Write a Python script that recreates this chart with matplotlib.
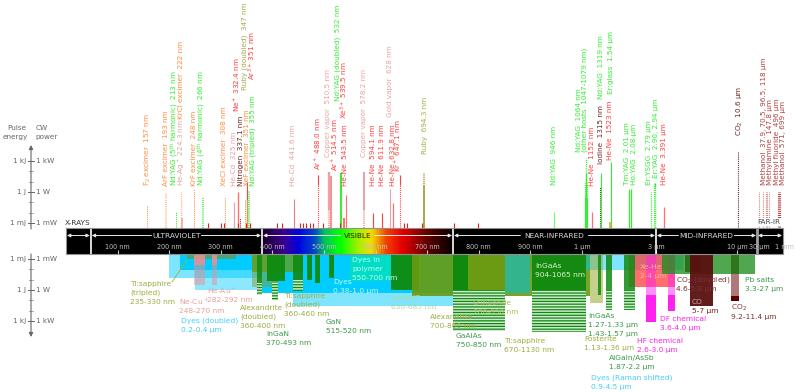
import matplotlib
matplotlib.use('Agg')
import matplotlib.pyplot as plt
from matplotlib.colors import LinearSegmentedColormap
import numpy as np

plt.rcParams['font.family'] = 'DejaVu Sans'
plt.rcParams['mathtext.default'] = 'regular'
plt.rcParams['hatch.linewidth'] = 0.9
plt.rcParams['lines.scale_dashes'] = False

ORANGE = '#ff8c3c'
PALE_ORANGE = '#ffb48c'
GREEN = '#33ee33'
RED = '#ff4040'
SOFT_RED = '#ff7070'
PINK = '#e8a4a4'
OLIVE = '#a8a84c'
DARK = '#6a2424'
MAROON = '#b04040'
DYE = '#00ccff'
BAND_GREEN = '#0f8a0f'
BAND_OLIVE = '#6a9a10'
MAGENTA = '#ff22ee'
BAR_EDGE = 3.3e-4

# upper half: discrete lines, wavelength in nm and top of the line in W (or J)
line_waves = [157, 193, 213, 222, 224.3, 248, 266, 308, 325, 332.4, 337.1, 347,
              351, 351, 355, 441.6, 488, 510.5, 514.5, 532, 539.5, 543.5, 578.2,
              594.1, 611.9, 628, 632.8, 647.1, 694.3, 946, 1047, 1053, 1064, 1079,
              1152, 1315, 1319, 1523, 1540, 2010, 2080, 2790, 2900, 2940, 3391,
              10600, 37900, 70500, 96500, 118000, 147800, 496000, 571000, 699000]
line_tops = [0.044, 0.8, 0.011, 1, 0.003, 2, 0.26, 0.33, 0.11, 1, 0.003, 0.17,
             9.3, 0.17, 1.3, 0.2, 45, 87, 35, 70, 0.003, 0.5, 87,
             0.009, 0.009, 2, 0.09, 45, 70, 0.011, 7.4, 7.4, 2000, 7.4,
             0.011, 3, 70, 0.0013, 800, 2, 2, 1, 7.4, 7.4, 0.035,
             9300, 1, 1, 1, 1, 1, 1, 1, 1]
# where a line changes between solid and dotted (None: it does not change)
line_splits = [None, None, None, None, None, None, None, None, None, None, None, None,
               0.17, None, None, None, 4.8, 0.018, None, None, None, None, 0.018,
               None, None, None, None, 4.8, 3.8, None, 0.26, 0.26, 70, 0.26,
               None, None, None, None, None, None, None, None, None, 3, None,
               None, None, None, None, None, None, None, None, None]

line_colors = [ORANGE, PALE_ORANGE, GREEN, PALE_ORANGE, PINK, ORANGE, GREEN, ORANGE, PINK, SOFT_RED, DARK, OLIVE,
               RED, ORANGE, GREEN, '#e08080', RED, PINK, SOFT_RED, GREEN, SOFT_RED, SOFT_RED, PINK,
               RED, RED, PINK, SOFT_RED, RED, OLIVE, '#66ff66', GREEN, GREEN, GREEN, GREEN,
               SOFT_RED, DARK, GREEN, ORANGE, GREEN, GREEN, GREEN, GREEN, GREEN, GREEN, SOFT_RED,
               DARK, '#d08080', '#d08080', '#d08080', '#d08080', '#d08080', MAROON, MAROON, MAROON]
line_widths = [0.7, 1.2, 0.7, 1.0, 1.1, 0.7, 1.1, 0.7, 0.9, 1.0, 0.7, 0.7,
               0.8, 0.9, 1.1, 0.8, 0.8, 1.7, 1.1, 1.5, 1.5, 0.8, 1.5,
               0.8, 0.8, 0.8, 0.9, 0.8, 1.4, 0.8, 0.8, 0.8, 1.0, 0.8,
               0.9, 0.7, 0.8, 1.1, 0.8, 0.9, 0.9, 0.9, 0.8, 1.0, 0.9,
               0.8, 0.8, 0.8, 0.8, 0.8, 0.8, 0.8, 0.8, 0.8]
# S solid, D dotted, SD solid above dotted, DS dotted above solid
line_modes = ['D', 'D', 'D', 'D', 'S', 'D', 'D', 'D', 'S', 'S', 'D', 'D',
              'SD', 'S', 'D', 'S', 'SD', 'SD', 'S', 'S', 'S', 'S', 'SD',
              'S', 'S', 'S', 'S', 'SD', 'DS', 'S', 'DS', 'DS', 'DS', 'DS',
              'S', 'D', 'S', 'S', 'S', 'S', 'S', 'D', 'D', 'SD', 'S',
              'D', 'D', 'D', 'D', 'D', 'D', 'D', 'D', 'D']

# tiny red lines sitting on the bar
short_waves = [275, 300, 306, 333, 349, 357, 409, 419, 453, 459, 465, 473, 479, 498,
               531, 655, 660, 690, 752, 798]

line_labels = ['F$_2$ excimer  157 nm', 'ArF excimer  193 nm', 'Nd:YAG (5$^{th}$ harmonic)  213 nm',
               'KrCl excimer  222 nm', 'He-Ag$^+$ 224.3 nm', 'KrF excimer  248 nm',
               'Nd:YAG (4$^{th}$ harmonic)  266 nm', 'XeCl excimer  308 nm', 'He-Cd  325 nm',
               'Ne$^+$ 332.4 nm', 'Nitrogen  337.1 nm', 'Ruby (doubled)  347 nm',
               'Ar$^{3+}$ 351 nm', 'XeF excimer  351 nm', 'Nd:YAG (tripled)  355 nm',
               'He-Cd  441.6 nm', 'Ar$^+$ 488.0 nm', 'Copper vapor  510.5 nm', 'Ar$^+$ 514.5 nm',
               'Nd:YAG (doubled)  532 nm', 'Xe$^{3+}$ 539.5 nm', 'He-Ne  543.5 nm',
               'Copper vapor  578.2 nm', 'He-Ne  594.1 nm', 'He-Ne  611.9 nm', 'Gold vapor  628 nm',
               'He-Ne  632.8 nm', 'Kr$^+$ 647.1 nm', 'Ruby  694.3 nm', 'Nd:YAG  946 nm',
               'Nd:YAG  1064 nm', '(other hosts  1047-1079 nm)', 'He-Ne  1152 nm', 'Iodine  1315 nm',
               'Nd:YAG  1319 nm', 'He-Ne  1523 nm', 'Er:glass  1.54 µm', 'Tm:YAG  2.01 µm',
               'Ho:YAG  2.08 µm', 'Er:YSGG  2.79 µm', 'Er:YAG  2.90, 2.94 µm', 'He-Ne  3.391 µm',
               'CO$_2$  10.6 µm', 'Methanol  37.9, 70.5, 96.5, 118 µm', 'Methylamine  147.8 µm',
               'Methyl fluoride  496 µm', 'Methanol  571, 699 µm']
label_colors = [ORANGE, ORANGE, GREEN, ORANGE, PINK, ORANGE, GREEN, ORANGE, PINK, RED, DARK, OLIVE,
                RED, ORANGE, GREEN, PINK, RED, PINK, RED, GREEN, RED, RED, PINK,
                RED, RED, PINK, RED, RED, OLIVE, GREEN, GREEN, GREEN, RED, DARK,
                GREEN, RED, GREEN, GREEN, GREEN, GREEN, GREEN, RED, DARK,
                MAROON, MAROON, MAROON, MAROON]
# pixel layout of the rotated labels
label_x = [148, 166, 175, 181, 181, 194, 202, 224, 234, 237, 240.6, 245, 252, 247, 253,
           293, 318, 328, 335, 338, 344, 345, 364, 373, 382, 390, 393, 398, 425, 554,
           579, 585, 592, 601, 601, 610, 611, 627, 634, 649, 656, 664, 740, 764, 770, 777, 783]
label_y = [186, 186, 186, 119, 186, 186, 186, 186, 186, 112, 186, 90, 80, 186, 186,
           186, 170, 157, 171, 101, 119, 186, 157, 186, 186, 117, 186, 172, 154, 185,
           152, 152, 186, 164, 99, 160, 94, 185, 185, 185, 178, 185, 136, 185, 185, 185, 185]

# lower half: filled bands, wavelength range in nm and power range in W, back to front
fill_lows = [200, 220, 250, 380, 440, 900, 550, 235, 248, 248, 282, 282, 360, 360,
             370, 390, 440, 467, 483, 510, 630, 670, 850, 1065, 750, 780, 904, 1130,
             1270, 1430, 2000, 1870, 2600, 2600, 3600, 3600, 9200, 9200, 9200,
             4600, 3300, 5000]
fill_highs = [400, 400, 400, 750, 750, 4500, 700, 330, 270, 270, 292, 292, 400, 460,
              380, 425, 460, 477, 492, 520, 685, 1130, 900, 1130, 780, 850, 1065, 1360,
              1330, 1570, 4000, 2200, 3000, 3000, 4000, 4000, 11400, 11400, 11400,
              5800, 27000, 7000]
fill_tops = [BAR_EDGE, BAR_EDGE, BAR_EDGE, BAR_EDGE, BAR_EDGE, BAR_EDGE, BAR_EDGE, BAR_EDGE, BAR_EDGE, 0.0038, BAR_EDGE, 0.0038,
             BAR_EDGE, BAR_EDGE, BAR_EDGE, BAR_EDGE, BAR_EDGE, BAR_EDGE, BAR_EDGE, BAR_EDGE, BAR_EDGE, BAR_EDGE, BAR_EDGE, BAR_EDGE,
             BAR_EDGE, BAR_EDGE, BAR_EDGE, BAR_EDGE, BAR_EDGE, BAR_EDGE, BAR_EDGE, BAR_EDGE, BAR_EDGE, 3, BAR_EDGE, 3,
             BAR_EDGE, 0.028, 3.8, BAR_EDGE, BAR_EDGE, BAR_EDGE]
fill_bottoms = [0.07, 0.0115, 1, 2, 35, 0.0115, 0.13, 0.001, 0.0038, 0.33, 0.0038, 0.33, 0.5, 0.02,
                0.2, 0.13, 0.1, 0.1, 0.2, 0.07, 1, 3.8, 2, 0.0115, 1, 1, 1, 18,
                3, 1, 0.5, 1, 3, 1200, 3, 110, 0.028, 3.8, 11,
                0.018, 0.028, 35]
fill_colors = [DYE, DYE, DYE, DYE, DYE, DYE, '#00e0c0', '#5f9a50', '#e89090', '#e89090', '#e89090', '#e89090',
               '#8aa030', BAND_OLIVE, BAND_GREEN, BAND_GREEN, BAND_GREEN, BAND_GREEN, BAND_GREEN, BAND_GREEN,
               BAND_GREEN, BAND_OLIVE, '#34b48c', '#34b48c', BAND_GREEN, BAND_OLIVE, BAND_GREEN, '#98aa30',
               BAND_GREEN, BAND_GREEN, '#ff3c3c', BAND_GREEN, MAGENTA, MAGENTA, MAGENTA, MAGENTA,
               '#6b1a1a', '#b07878', '#5a0000', '#5a0f0f', '#1f8f1f', '#5a0f0f']
fill_alphas = [0.5, 1, 0.45, 1, 0.5, 0.5, 0.9, 0.75, 0.9, 0.5, 0.9, 0.5,
               0.5, 0.75, 0.85, 0.95, 0.9, 0.95, 0.95, 0.95, 0.95, 0.9, 1, 1, 1, 0.9, 0.95, 0.55,
               0.85, 0.85, 0.75, 0.85, 0.5, 1, 0.5, 1, 1, 1, 1, 1, 0.78, 0.95]

# lower half: the parts drawn as horizontal stripes
stripe_lows = [370, 400, 440, 750, 904, 1430, 1870]
stripe_highs = [380, 410, 460, 850, 1065, 1570, 2200]
stripe_tops = [0.2, 0.13, 0.1, 1, 1, 1, 1]
stripe_bottoms = [3, 9, 1.3, 9300, 12000, 87, 87]

band_labels = [['Ti:sapphire', '(tripled)', '235-330 nm'], ['Ne-Cu$^+$', '248-270 nm'],
               ['He-Au$^+$', '282-292 nm'], ['Dyes (doubled)', '0.2-0.4 µm'],
               ['Alexandrite', '(doubled)', '360-400 nm'], ['InGaN', '370-493 nm'],
               ['Ti:sapphire', '(doubled)', '360-460 nm'], ['GaN', '515-520 nm'],
               ['Dyes', '0.38-1.0 µm'], ['Dyes in', 'polymer', '550-700 nm'],
               ['InGaAlP', '630-685 nm'], ['Alexandrite', '700-800 nm'], ['Cr:fluoride', '780-850 nm'],
               ['GaAlAs', '750-850 nm'], ['Ti:sapphire', '670-1130 nm'], ['InGaAs', '904-1065 nm'],
               ['InGaAs', '1.27-1.33 µm', '1.43-1.57 µm'], ['Fosterite', '1.13-1.36 µm'],
               ['HF chemical', '2.6-3.0 µm'], ['DF chemical', '3.6-4.0 µm'],
               ['AlGaIn/AsSb', '1.87-2.2 µm'], ['Dyes (Raman shifted)', '0.9-4.5 µm'],
               ['Xe-He', '2-4 µm'], ['CO$_2$ (doubled)', '4.6-5.8 µm'], ['CO'], ['5-7 µm'],
               ['CO$_2$', '9.2-11.4 µm'], ['Pb salts', '3.3-27 µm']]
band_label_colors = ['#9ab040', '#e8a0a0', '#e8a0a0', '#44ccff', '#9ab040', '#3a9a4a', '#9ab040', '#3a9a4a',
                     '#c8f8ff', '#c0fff0', '#a8d8a8', '#9ab040', '#a8c050', '#3a9a4a', '#9ab040', '#d8f0c8',
                     '#3a9a4a', '#9ab040', MAGENTA, MAGENTA, '#3a9a4a', '#44ccff', '#ffb0a0',
                     '#7a3030', '#c8a8a0', '#7a2020', '#7a3030', '#3a9a4a']
band_label_x = [130, 179, 207, 181, 240, 266, 284, 326, 333, 352, 391, 430, 473, 456, 504, 535,
                588, 584, 637, 660, 609, 591, 640, 676, 692, 692, 731, 745]
band_label_y = [284, 302, 291, 321, 308, 334, 296, 322, 282, 260, 298, 317, 303, 336, 341, 266,
                316, 339, 341, 319, 358, 378, 267, 280, 302, 311, 308, 280]

# the bar
section_edges = [0, 48, 380, 750, 3000, 30000, 1000000]
section_names = ['', 'ULTRAVIOLET', 'VISIBLE', 'NEAR-INFRARED', 'MID-INFRARED', '']
section_gaps = [0, 25, 17, 34, 28, 0]
tick_waves = [100, 200, 300, 400, 500, 600, 700, 800, 900, 1000, 3000, 10000, 30000, 1000000]
tick_names = ['100 nm', '200 nm', '300 nm', '400 nm', '500 nm', '600 nm', '700 nm', '800 nm', '900 nm',
              '1 µm', '3 µm', '10 µm', '30 µm', '1 mm']
spectrum_waves = [380, 420, 450, 480, 500, 530, 565, 590, 620, 650, 700, 750]
spectrum_colors = ['#180028', '#3a0090', '#0000e0', '#0048c8', '#00c060', '#00ff00', '#a0f000', '#f0e000',
                   '#f04000', '#e80000', '#600000', '#000000']

# the side scale
scale_names_left = ['1 mJ', '1 J', '1 kJ']
scale_names_right = ['1 mW', '1 W', '1 kW']
scale_values = [0.001, 1, 1000]
minor_values = [0.01, 0.1, 10, 100]


def forward(w):
    w = np.asarray(w, dtype=float)
    safe = np.maximum(w, 1e-3)
    return np.where(w <= 1000, 66 + 0.516 * w,
                    np.where(w <= 10000, 582 + 155 * np.log10(safe / 1000),
                             np.where(w <= 30000, 737 + 41.9 * np.log10(safe / 10000),
                                      757 + 17.07 * np.log10(safe / 30000))))


def inverse(p):
    p = np.asarray(p, dtype=float)
    return np.where(p <= 582, (p - 66) / 0.516,
                    np.where(p <= 737, 1000 * 10 ** ((p - 582) / 155),
                             np.where(p <= 757, 10000 * 10 ** ((p - 737) / 41.9),
                                      30000 * 10 ** ((p - 757) / 17.07))))


def make_axes(fig, top_px, bottom_px):
    ax = fig.add_axes([66 / 800, 1 - bottom_px / 392, 717 / 800, (bottom_px - top_px) / 392])
    ax.set_xscale('function', functions=(forward, inverse))
    ax.set_xlim(0, 1000000)
    ax.axis('off')
    return ax


def draw_lines(ax):
    bottom = ax.get_ylim()[0]
    dots = (0, (0.75, 0.75))
    for w, top, split, mode, c, lw in zip(line_waves, line_tops, line_splits, line_modes, line_colors, line_widths):
        if mode in ('S', 'D'):
            ax.plot([w, w], [bottom, top], color=c, lw=lw, ls='-' if mode == 'S' else dots,
                    solid_capstyle='butt', dash_capstyle='butt')
        else:
            upper = '-' if mode[0] == 'S' else dots
            lower = '-' if mode[1] == 'S' else dots
            ax.plot([w, w], [split, top], color=c, lw=lw, ls=upper, solid_capstyle='butt', dash_capstyle='butt')
            ax.plot([w, w], [bottom, split], color=c, lw=lw, ls=lower, solid_capstyle='butt', dash_capstyle='butt')
    for w in short_waves:
        ax.plot([w, w], [bottom, 0.001], color='#e02020', lw=0.8, solid_capstyle='butt')


def draw_bands(ax):
    for lo, hi, top, bot, c, a in zip(fill_lows, fill_highs, fill_tops, fill_bottoms, fill_colors, fill_alphas):
        ax.fill_between([lo, hi], top, bot, color=c, alpha=a, lw=0)
    for lo, hi, top, bot in zip(stripe_lows, stripe_highs, stripe_tops, stripe_bottoms):
        ax.fill_between([lo, hi], top, bot, facecolor='#cfe8cf', edgecolor=BAND_GREEN, hatch='------', lw=0)


def draw_bar(ax):
    ax.axvspan(0, 1000000, color='black', lw=0)
    cmap = LinearSegmentedColormap.from_list(
        'spectrum', [((w - 380) / 370, c) for w, c in zip(spectrum_waves, spectrum_colors)])
    vis = np.arange(380, 751, 2)
    ax.pcolormesh(vis, [0, 1], [vis[:-1]], cmap=cmap, vmin=380, vmax=750)
    ax.vlines(tick_waves[:-1], 0, 0.15, color='#c8c8c8', lw=0.8)
    for w in section_edges[1:-2]:
        ax.axvline(w, color='white', lw=1.2)
    ax.axvline(section_edges[-2], color='#a0a0a0', lw=2)


def draw_overlay(ov):
    # bar frame
    ov.plot([66, 783, 783, 66, 66], [228, 228, 254, 254, 228], color='#909090', lw=0.8)
    for i, name in enumerate(section_names):
        left = float(forward(section_edges[i])) + 1
        right = float(forward(section_edges[i + 1])) - 1
        mid = (left + right) / 2
        style = dict(arrowstyle='-|>', color='#e8e8e8', lw=0.7, mutation_scale=5, shrinkA=0, shrinkB=0)
        ov.annotate('', xy=(left, 235.5), xytext=(mid - section_gaps[i], 235.5), arrowprops=style)
        ov.annotate('', xy=(right, 235.5), xytext=(mid + section_gaps[i], 235.5), arrowprops=style)
        if name:
            ov.text(mid, 235.5, name, color='#222200' if name == 'VISIBLE' else '#d8d8d8', fontsize=5.3,
                    ha='center', va='center')
    for w, name in zip(tick_waves, tick_names):
        ov.text(float(forward(w)) + (2 if name in ('30 µm', '1 mm') else 0), 247, name, color='#c0c0c0',
                fontsize=4.7, ha='center', va='center', clip_on=False)
    ov.text(65, 222.5, 'X-RAYS', color='#333333', fontsize=5.3, ha='left', va='center')
    ov.text(769, 222, 'FAR-IR', color='#444444', fontsize=5.2, ha='center', va='center',
            bbox=dict(facecolor='white', edgecolor='none', pad=0.8))

    # side scale, decade step of 10.33 px
    grey = '#666666'
    ov.annotate('', xy=(31, 145), xytext=(31, 229), arrowprops=dict(arrowstyle='-|>', color=grey, lw=0.8,
                                                                    mutation_scale=6, shrinkA=0, shrinkB=0))
    ov.annotate('', xy=(31, 337), xytext=(31, 254), arrowprops=dict(arrowstyle='-|>', color=grey, lw=0.8,
                                                                    mutation_scale=6, shrinkA=0, shrinkB=0))
    for v, left, right in zip(scale_values, scale_names_left, scale_names_right):
        d = 10.33 * np.log10(v)
        for y in (192 - d, 290 + d):
            ov.plot([28, 34], [y, y], color=grey, lw=0.7)
            ov.text(26, y, left, color=grey, fontsize=5.2, ha='right', va='center')
            ov.text(35.5, y, right, color=grey, fontsize=5.2, ha='left', va='center')
    for v in minor_values:
        d = 10.33 * np.log10(v)
        ov.plot([29, 33], [192 - d, 192 - d], color='#999999', lw=0.6)
        ov.plot([29, 33], [290 + d, 290 + d], color='#999999', lw=0.6)
    ov.text(17, 127.5, 'Pulse', color=grey, fontsize=5.2, ha='center', va='center')
    ov.text(15, 137, 'energy', color=grey, fontsize=5.2, ha='center', va='center')
    ov.text(42, 127.5, 'CW', color=grey, fontsize=5.2, ha='center', va='center')
    ov.text(47, 137, 'power', color=grey, fontsize=5.2, ha='center', va='center')

    # labels of the lines
    for text, c, x, y in zip(line_labels, label_colors, label_x, label_y):
        ov.text(x, y, text, color=c, fontsize=5.2, rotation=90, ha='center', va='bottom')

    # labels of the bands
    ov.plot([172, 187], [282, 260], color='#9ab040', lw=0.6)
    for lines, c, x, y in zip(band_labels, band_label_colors, band_label_x, band_label_y):
        for j, text in enumerate(lines):
            ov.text(x, y + j * 9, text, color=c, fontsize=5.4, ha='left', va='center')


def main():
    fig = plt.figure(figsize=(8, 3.92), dpi=100)

    upper = make_axes(fig, 0, 228)
    upper.set_yscale('log')
    upper.set_ylim(10 ** -3.48, 10 ** 18.6)
    draw_lines(upper)
    upper.axis('off')

    lower = make_axes(fig, 254, 392)
    lower.set_yscale('log')
    lower.set_ylim(10 ** 9.88, 10 ** -3.48)
    draw_bands(lower)
    lower.axis('off')

    bar = make_axes(fig, 228, 254)
    bar.set_ylim(0, 1)
    draw_bar(bar)
    bar.set_xlim(0, 1000000)
    bar.axis('off')

    ov = fig.add_axes([0, 0, 1, 1])
    ov.set_xlim(0, 800)
    ov.set_ylim(392, 0)
    ov.axis('off')
    draw_overlay(ov)

    fig.savefig('out.png', dpi=100)


if __name__ == "__main__":
    main()
